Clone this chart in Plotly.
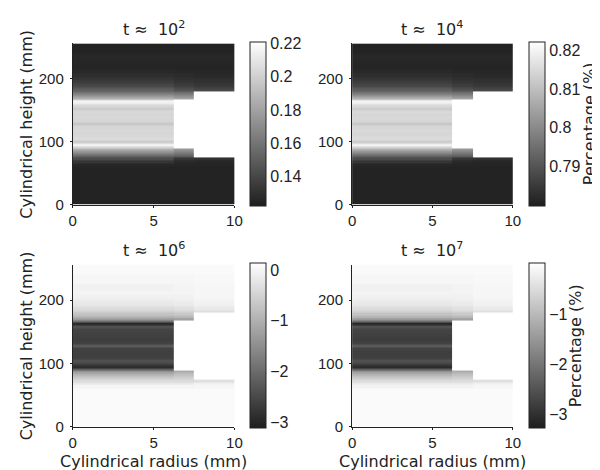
import plotly.graph_objects as go

# Grid edges (mm)
r_edges = [0, 6.25, 7.5, 10]
z_edges = [0, 60, 66, 70, 75, 78, 81, 84, 87, 89, 92, 95, 98, 102, 106, 110, 115, 120,
           125, 130, 135, 140, 145, 150, 155, 159, 162, 165, 167, 170, 173, 176, 180,
           184, 188, 192, 197, 202, 208, 215, 225, 240, 256]
N = None

# t ~ 1e2
tl_core = [0.124, 0.126, 0.132, 0.142, 0.152, 0.162, 0.172, 0.181, 0.191, 0.201, 0.216,
           0.211, 0.199, 0.205, 0.204, 0.203, 0.204, 0.203, 0.197, 0.203, 0.204, 0.203,
           0.204, 0.199, 0.204, 0.213, 0.216, 0.201, 0.186, 0.176, 0.167, 0.158, 0.150,
           0.144, 0.139, 0.135, 0.132, 0.129, 0.127, 0.125, 0.126, 0.124]
tl_step = [0.124, 0.125, 0.127, 0.132, 0.150, 0.158, 0.165, 0.172, 0.179,
           N, N, N, N, N, N, N, N, N, N, N, N, N, N, N, N, N, N, N,
           0.179, 0.172, 0.164, 0.156,
           0.144, 0.139, 0.135, 0.132, 0.130, 0.128, 0.126, 0.125, 0.126, 0.124]
tl_outer = [0.124, 0.125, 0.126, 0.130,
            N, N, N, N, N, N, N, N, N, N, N, N, N, N, N, N, N, N, N, N, N, N, N, N,
            N, N, N, N,
            0.140, 0.136, 0.133, 0.131, 0.129, 0.127, 0.126, 0.125, 0.126, 0.124]

# t ~ 1e4
tr_core = [0.7805, 0.7813, 0.7839, 0.7881, 0.7924, 0.7967, 0.8010, 0.8052, 0.8095, 0.8138,
           0.8202, 0.8180, 0.8129, 0.8155, 0.8150, 0.8146, 0.8150, 0.8146, 0.8121, 0.8146,
           0.8150, 0.8146, 0.8150, 0.8129, 0.8150, 0.8189, 0.8202, 0.8138, 0.8074, 0.8031,
           0.7988, 0.7950, 0.7916, 0.7890, 0.7869, 0.7852, 0.7839, 0.7826, 0.7817, 0.7809,
           0.7813, 0.7805]
tr_step = [0.7805, 0.7809, 0.7817, 0.7839, 0.7916, 0.7950, 0.7980, 0.8010, 0.8044,
           N, N, N, N, N, N, N, N, N, N, N, N, N, N, N, N, N, N, N,
           0.8044, 0.8010, 0.7975, 0.7941,
           0.7890, 0.7869, 0.7852, 0.7839, 0.7830, 0.7822, 0.7813, 0.7809, 0.7813, 0.7805]
tr_outer = [0.7805, 0.7809, 0.7813, 0.7830,
            N, N, N, N, N, N, N, N, N, N, N, N, N, N, N, N, N, N, N, N, N, N, N, N,
            N, N, N, N,
            0.7873, 0.7856, 0.7843, 0.7834, 0.7826, 0.7817, 0.7813, 0.7809, 0.7813, 0.7805]

# t ~ 1e6
bl_core = [0.07, -0.02, -0.19, -0.38, -0.58, -0.77, -0.97, -1.23, -1.56, -2.14, -2.92,
           -2.79, -2.53, -2.40, -2.60, -2.63, -2.63, -2.60, -2.27, -2.60, -2.66, -2.63,
           -2.60, -2.57, -2.40, -2.86, -2.96, -1.98, -1.33, -1.10, -0.90, -0.71, -0.51,
           -0.38, -0.28, -0.19, -0.12, -0.06, -0.02, -0.06, 0.01, 0.07]
bl_step = [0.07, -0.02, -0.19, -0.38, -0.51, -0.64, -0.77, -0.97, -1.16,
           N, N, N, N, N, N, N, N, N, N, N, N, N, N, N, N, N, N, N,
           -1.23, -1.03, -0.84, -0.64,
           -0.45, -0.32, -0.22, -0.15, -0.09, -0.06, -0.02, -0.02, 0.01, 0.07]
bl_outer = [0.07, 0.01, -0.09, -0.32,
            N, N, N, N, N, N, N, N, N, N, N, N, N, N, N, N, N, N, N, N, N, N, N, N,
            N, N, N, N,
            -0.32, -0.19, -0.12, -0.06, -0.02, 0.01, 0.01, 0.01, 0.04, 0.07]

# t ~ 1e7
br_core = [-0.05, -0.15, -0.31, -0.51, -0.71, -0.90, -1.10, -1.37, -1.70, -2.29, -3.08,
           -2.95, -2.69, -2.55, -2.75, -2.79, -2.79, -2.75, -2.42, -2.75, -2.82, -2.79,
           -2.75, -2.72, -2.55, -3.02, -3.12, -2.13, -1.47, -1.23, -1.04, -0.84, -0.64,
           -0.51, -0.41, -0.31, -0.24, -0.18, -0.15, -0.18, -0.11, -0.05]
br_step = [-0.05, -0.15, -0.31, -0.51, -0.64, -0.77, -0.90, -1.10, -1.30,
           N, N, N, N, N, N, N, N, N, N, N, N, N, N, N, N, N, N, N,
           -1.37, -1.17, -0.97, -0.77,
           -0.57, -0.44, -0.34, -0.28, -0.21, -0.18, -0.15, -0.15, -0.11, -0.05]
br_outer = [-0.05, -0.11, -0.21, -0.44,
            N, N, N, N, N, N, N, N, N, N, N, N, N, N, N, N, N, N, N, N, N, N, N, N,
            N, N, N, N,
            -0.44, -0.31, -0.24, -0.18, -0.15, -0.11, -0.11, -0.11, -0.08, -0.05]

titles = ["t ≈  10<sup>2</sup>", "t ≈  10<sup>4</sup>", "t ≈  10<sup>6</sup>", "t ≈  10<sup>7</sup>"]
ranges = [(0.122, 0.221), (0.7796, 0.8223), (-3.12, 0.14), (-3.28, 0.02)]
cb_ticks = [[0.14, 0.16, 0.18, 0.2, 0.22], [0.79, 0.8, 0.81, 0.82], [-3, -2, -1, 0], [-3, -2, -1]]
cb_text = [["0.14", "0.16", "0.18", "0.2", "0.22"], ["0.79", "0.8", "0.81", "0.82"],
           ["−3", "−2", "−1", "0"], ["−3", "−2", "−1"]]
cb_title_x = [None, 590, None, 575]
panels = [(tl_core, tl_step, tl_outer), (tr_core, tr_step, tr_outer),
          (bl_core, bl_step, bl_outer), (br_core, br_step, br_outer)]

W, H = 600, 470
LABEL_FONT = "DejaVu Sans"
TICK_FONT = "Liberation Sans"
INK = "#222"
# pixel boxes: (x0, x1, y_top, y_bottom, colorbar left x)
boxes = [(62, 227, 36, 200, 243), (347, 511, 36, 200, 528),
         (62, 227, 261, 426, 243), (347, 511, 261, 426, 528)]
colorscale = [[0, "#1e1e1e"], [1, "#ffffff"]]

fig = go.Figure()
for i, (cols, box) in enumerate(zip(panels, boxes)):
    core, step, outer = cols
    z = [[a, b, c] for a, b, c in zip(core, step, outer)]
    x0, x1, yt, yb, cbx = box
    sfx = "" if i == 0 else str(i + 1)
    ymid = 1 - (yt + yb) / 2 / H
    cb = dict(
        x=cbx / W, xanchor="left", xpad=0, ypad=0,
        y=ymid, yanchor="middle",
        len=yb - yt, lenmode="pixels",
        thickness=16, thicknessmode="pixels",
        outlinewidth=1, outlinecolor=INK,
        tickvals=cb_ticks[i], ticktext=cb_text[i], ticks="",
        tickfont=dict(family=TICK_FONT, size=16, color=INK),
    )
    fig.add_trace(go.Heatmap(
        x=r_edges, y=z_edges, z=z, colorscale=colorscale,
        zmin=ranges[i][0], zmax=ranges[i][1], colorbar=cb,
        xaxis="x" + sfx, yaxis="y" + sfx, hoverinfo="skip",
    ))
    axstyle = dict(showgrid=False, zeroline=False, showline=True, linecolor=INK,
                   linewidth=1, ticks="outside", ticklen=2, tickcolor=INK,
                   tickfont=dict(family=TICK_FONT, size=15, color=INK))
    fig.layout["xaxis" + sfx] = dict(domain=[x0 / W, x1 / W], range=[0, 10],
                                     tickvals=[0, 5, 10], anchor="y" + sfx, **axstyle)
    fig.layout["yaxis" + sfx] = dict(domain=[1 - yb / H, 1 - yt / H], range=[0, 256],
                                     tickvals=[0, 100, 200], anchor="x" + sfx,
                                     ticklabelstandoff=3, **axstyle)
    fig.add_annotation(text=titles[i], x=(x0 + x1) / 2 / W, y=1 - (yt - 15) / H,
                       xref="paper", yref="paper", showarrow=False,
                       xanchor="center", yanchor="middle",
                       font=dict(family=LABEL_FONT, size=16, color=INK))
    if cb_title_x[i] is not None:
        fig.add_annotation(text="Percentage (%)", x=cb_title_x[i] / W, y=ymid,
                           xref="paper", yref="paper", showarrow=False, textangle=-90,
                           xanchor="center", yanchor="middle",
                           font=dict(family=LABEL_FONT, size=16, color=INK))
    if i in (0, 2):
        fig.add_annotation(text="Cylindrical height (mm)", x=15 / W, y=ymid,
                           xref="paper", yref="paper", showarrow=False, textangle=-90,
                           xanchor="center", yanchor="middle",
                           font=dict(family=LABEL_FONT, size=16, color=INK))
    if i in (2, 3):
        fig.add_annotation(text="Cylindrical radius (mm)", x=(x0 + x1) / 2 / W, y=1 - 461 / H,
                           xref="paper", yref="paper", showarrow=False,
                           xanchor="center", yanchor="middle",
                           font=dict(family=LABEL_FONT, size=16, color=INK))

fig.update_layout(width=W, height=H, margin=dict(l=0, r=0, t=0, b=0),
                  paper_bgcolor="white", plot_bgcolor="white", showlegend=False)
fig.write_html("out.html")
